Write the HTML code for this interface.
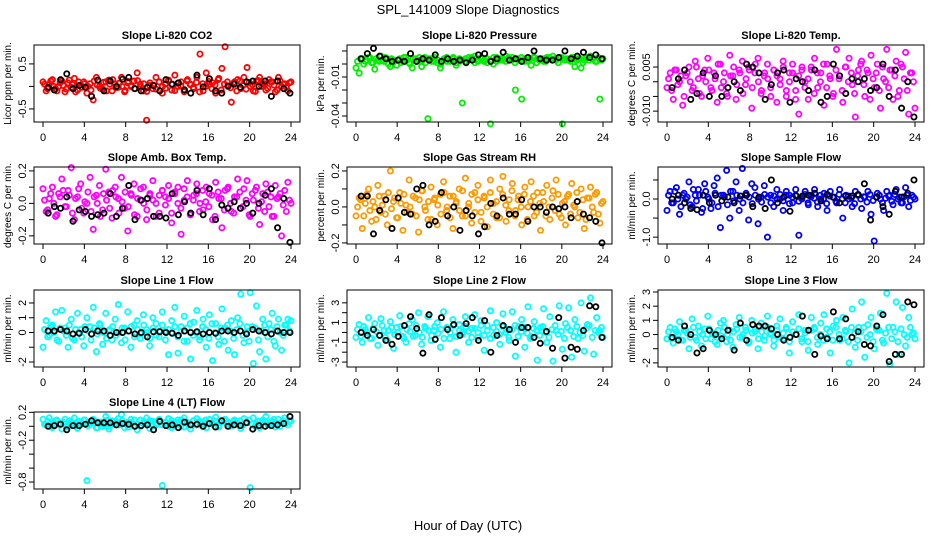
<!DOCTYPE html>
<html><head><meta charset="utf-8"><style>
html,body{margin:0;padding:0;background:#fff;}
svg{display:block;font-family:"Liberation Sans",sans-serif;}
</style></head><body>
<svg id="chart" width="936" height="540" viewBox="0 0 936 540">
<text x="468" y="14" text-anchor="middle" font-size="13">SPL_141009  Slope Diagnostics</text>
<text x="468" y="530" text-anchor="middle" font-size="13">Hour of Day (UTC)</text>
</svg>
<script>
const xTicks = [0,4,8,12,16,20,24];
const co2Color = [0.1,-0.1,0.05,0.15,-0.05,0.0,0.12,-0.12,0.08,-0.02,0.18,-0.08,0.03,0.1,-0.15,0.06,-0.3,0.2,0.0,-0.06,0.1,0.14,-0.1,0.05,-0.02,0.2,-0.12,0.08,0.0,0.12,0.3,0.05,-0.1,-0.75,0.02,-0.05,0.2,0.1,-0.15,0.05,0.12,-0.08,0.25,0.0,0.1,-0.12,0.15,0.05,-0.05,0.2,0.72,-0.1,0.3,0.05,0.08,-0.15,0.18,0.4,0.88,0.0,-0.35,0.1,0.15,-0.05,0.2,0.42,0.0,-0.1,0.12,0.2,0.05,-0.08,0.15,0.1,-0.12,0.2,0.0,0.06,-0.1,0.1];
const co2Band = [0.05,-0.05,0.12,0.0,-0.1,0.08,0.02,-0.06,0.14,0.04,-0.12,0.1,-0.02,0.06,0.0,-0.08,0.12,0.03,-0.04,0.09,-0.1,0.05,0.15,-0.03,0.07,0.0,-0.09,0.11,0.02,-0.05,0.13,-0.01,0.06,-0.11,0.08,0.03,-0.06,0.1,0.0,-0.04,0.14,0.05,-0.09,0.07,0.01,-0.07,0.12,0.04,-0.02,0.09,-0.12,0.06,0.0,0.11,-0.05,0.03,0.15,-0.08,0.05,0.1,-0.03,0.07,-0.1,0.12,0.02,-0.06,0.09,0.04,-0.11,0.13,0.0,0.06,-0.04,0.1,0.03,-0.08,0.12,0.05,-0.02,0.08];
const co2Black = [-0.02,-0.08,0.15,0.28,-0.05,0.02,-0.02,-0.22,0.14,-0.1,0.12,0.0,0.16,0.2,-0.05,-0.1,-0.02,0.02,-0.1,0.15,0.05,0.08,-0.08,-0.15,0.25,-0.01,0.17,-0.1,-0.15,0.01,0.05,-0.02,0.1,0.12,0.0,0.12,-0.22,0.12,-0.05,-0.15];
const presColor = [-0.003,-0.007,0.004,0.002,0.005,0.001,-0.004,0.003,0.006,0.002,0.004,-0.002,0.003,-0.001,0.004,0.002,0.005,0.001,-0.003,0.004,0.003,-0.002,0.005,-0.042,0.004,0.002,0.001,-0.003,0.003,0.005,0.002,0.004,-0.001,0.002,-0.03,0.004,0.003,0.005,0.006,0.002,0.004,0.003,0.001,-0.046,0.005,0.002,0.004,0.003,0.006,0.004,0.005,-0.02,0.003,-0.027,0.004,0.002,-0.001,0.005,0.004,0.003,0.002,0.005,0.004,0.006,0.003,0.005,-0.046,0.004,0.003,0.005,-0.002,0.004,-0.003,0.003,0.005,0.006,0.004,0.002,-0.027,0.004];
const presBand = [0.002,0.004,0.0,0.003,0.005,0.001,0.004,0.002,0.003,0.005,0.0,0.004,0.002,0.003,0.001,0.005,0.003,0.0,0.004,0.002,0.005,0.003,0.001,0.004,0.002,0.005,0.003,0.0,0.004,0.002,0.003,0.005,0.001,0.004,0.003,0.002,0.005,0.004,0.001,0.003,0.005,0.002,0.004,0.003,0.0,0.005,0.003,0.004,0.002,0.005,0.003,0.001,0.004,0.005,0.002,0.003,0.004,0.005,0.001,0.003,0.004,0.002,0.005,0.003,0.004,0.001,0.005,0.003,0.004,0.002,0.005,0.003,0.004,0.001,0.005,0.003,0.004,0.002,0.005,0.003];
const presBlack = [0.004,0.008,0.012,0.006,0.004,0.002,0.003,0.002,0.008,0.002,0.004,0.003,0.007,0.002,0.004,0.002,0.003,0.001,0.003,0.007,0.008,0.002,0.004,0.009,0.003,0.004,0.002,0.005,0.01,0.004,0.003,0.003,0.005,0.01,0.004,0.006,0.009,0.005,0.007,0.004];
const ltempColor = [-0.002,0.003,-0.006,0.004,0.0,-0.008,0.002,0.005,-0.003,0.007,0.001,-0.005,0.004,0.008,-0.002,0.003,-0.007,0.006,0.0,-0.004,0.009,0.002,-0.006,0.004,0.007,-0.001,0.005,-0.009,0.003,0.008,-0.004,0.002,0.006,-0.002,0.004,-0.007,0.001,0.007,-0.005,0.003,0.006,-0.003,-0.011,0.005,0.0,-0.006,0.004,0.008,-0.002,0.003,-0.008,0.006,0.001,-0.004,0.011,0.002,-0.007,0.005,0.008,-0.001,-0.012,0.004,0.007,-0.005,0.003,0.009,-0.002,0.006,-0.009,0.001,0.011,0.004,-0.006,0.007,-0.003,0.005,0.010,-0.011,0.003,-0.009];
const ltempBand = [0.001,-0.003,0.004,-0.001,0.002,-0.005,0.003,0.0,-0.002,0.005,-0.004,0.002,0.0,0.004,-0.003,0.001,0.006,-0.002,0.003,-0.005,0.002,0.005,-0.001,0.003,-0.004,0.001,0.004,-0.002,0.006,0.0,-0.003,0.003,0.001,-0.005,0.004,0.002,-0.001,0.005,-0.003,0.0,0.003,-0.006,0.002,0.004,-0.002,0.001,0.005,-0.004,0.003,0.0,0.006,-0.002,0.002,-0.005,0.004,0.001,-0.003,0.005,0.0,0.003,-0.004,0.002,0.006,-0.001,0.004,-0.006,0.001,0.003,-0.003,0.005,0.0,-0.002,0.004,0.002,-0.005,0.006,0.001,-0.003,0.003,0.0];
const ltempBlack = [-0.002,0.001,0.004,-0.006,-0.004,0.003,-0.005,0.002,-0.005,-0.002,0.0,-0.003,0.006,0.005,0.003,-0.006,-0.001,0.003,0.004,-0.007,0.001,0.0,-0.003,0.004,-0.007,-0.005,0.006,0.002,-0.004,0.001,0.0,0.001,-0.003,-0.002,0.006,-0.005,0.004,-0.009,0.0,-0.012];
const ambColor = [0.09,-0.05,0.03,0.1,-0.08,0.06,0.15,-0.02,0.08,0.22,-0.1,0.04,0.12,-0.06,0.0,0.16,-0.16,0.05,0.11,-0.04,0.21,0.07,-0.09,0.1,0.03,0.16,-0.03,-0.17,0.06,0.12,-0.08,0.02,0.1,-0.1,0.05,0.14,0.0,-0.06,0.08,0.04,0.11,-0.12,0.06,0.1,-0.19,0.02,0.14,-0.07,0.05,0.12,0.0,-0.04,0.1,0.06,-0.1,0.13,0.03,-0.15,0.08,0.1,-0.05,0.04,0.15,-0.03,0.09,0.14,-0.08,0.02,0.1,-0.13,0.06,0.12,-0.02,-0.08,0.11,0.04,-0.2,0.08,0.13,0.0];
const ambBand = [0.02,-0.04,0.06,0.0,-0.07,0.04,0.08,-0.02,0.05,-0.06,0.03,0.09,-0.03,0.01,0.07,-0.05,0.04,0.0,-0.08,0.06,0.02,-0.03,0.08,0.04,-0.06,0.01,0.07,-0.02,0.05,-0.07,0.03,0.09,0.0,-0.04,0.06,0.02,-0.08,0.05,0.08,-0.01,0.03,-0.06,0.07,0.0,-0.03,0.09,0.04,-0.07,0.02,0.06,-0.05,0.08,0.01,-0.02,0.05,-0.08,0.07,0.03,-0.04,0.09,0.0,-0.06,0.04,0.07,-0.02,0.02,-0.07,0.06,0.08,-0.03,0.01,-0.05,0.07,0.04,-0.08,0.03,0.06,-0.01,-0.05,0.02];
const ambBlack = [-0.06,-0.02,-0.03,0.04,-0.11,-0.04,-0.05,-0.08,-0.07,-0.06,0.06,-0.08,-0.03,0.11,-0.1,0.02,0.03,-0.08,-0.08,-0.09,0.06,-0.07,0.01,-0.06,0.08,-0.07,0.09,-0.1,-0.01,-0.03,0.01,-0.03,0.0,-0.06,0.0,0.05,0.09,-0.15,0.03,-0.24];
const rhColor = [-0.05,0.05,-0.12,0.02,0.1,-0.08,0.0,0.12,-0.03,0.06,-0.1,0.2,0.03,-0.06,0.08,-0.13,0.01,0.15,-0.04,0.05,-0.14,0.09,0.0,-0.07,0.11,0.04,-0.1,0.07,0.14,-0.02,0.06,-0.12,0.02,0.1,-0.05,0.16,0.0,-0.09,0.08,0.12,-0.03,0.05,-0.11,0.15,0.02,-0.06,0.1,0.17,-0.08,0.04,0.13,-0.02,0.06,-0.1,0.11,0.0,0.14,-0.05,0.08,-0.13,0.03,0.12,-0.07,0.09,0.15,-0.04,0.02,-0.1,0.07,0.13,0.0,-0.06,0.1,-0.12,0.05,0.11,-0.03,0.08,-0.09,0.03];
const rhBand = [0.0,0.04,-0.05,0.07,-0.02,0.03,-0.07,0.06,0.01,-0.04,0.08,-0.01,0.05,-0.06,0.02,0.07,-0.03,0.0,0.06,-0.05,0.04,0.09,-0.02,0.03,-0.07,0.05,0.01,-0.04,0.08,0.0,-0.06,0.06,0.03,-0.02,0.09,-0.05,0.02,0.07,-0.03,0.04,-0.08,0.06,0.0,0.08,-0.04,0.03,-0.06,0.07,0.01,-0.02,0.09,-0.05,0.04,0.0,0.07,-0.07,0.03,0.06,-0.03,0.02,0.08,-0.05,0.0,0.05,-0.02,0.07,-0.06,0.03,0.06,-0.04,0.01,0.08,-0.03,0.04,-0.07,0.05,0.0,0.07,-0.04,0.02];
const rhBlack = [0.06,0.06,-0.15,-0.02,0.04,-0.12,0.05,-0.03,-0.04,0.1,0.12,-0.1,-0.08,0.08,-0.05,0.0,-0.13,-0.02,-0.05,-0.15,-0.11,0.02,-0.05,0.05,-0.04,-0.04,0.04,-0.08,0.0,0.0,-0.03,0.0,-0.01,0.0,-0.06,0.03,-0.04,-0.06,-0.08,-0.2];
const flowColor = [-0.3,0.2,-0.1,0.3,-0.4,0.1,0.0,0.45,-0.2,0.1,0.25,-0.35,0.4,0.05,-0.25,0.35,0.55,-0.75,0.1,0.75,-0.5,0.2,0.45,-0.3,0.8,0.1,-0.55,0.4,0.3,-0.65,0.05,0.35,-1.0,0.1,-0.2,0.25,0.0,-0.3,0.2,0.1,-0.1,0.25,-0.95,0.05,0.2,-0.15,0.1,0.25,-0.2,0.0,0.15,-0.3,0.2,0.05,-0.1,0.25,-0.5,0.1,0.0,-0.2,0.2,0.1,-0.25,0.05,0.2,-0.4,-1.1,0.15,0.0,-0.3,0.2,0.1,-0.15,0.25,0.05,-0.1,0.3,-0.2,0.1,0.0];
const flowBand = [0.1,-0.1,0.2,0.0,-0.2,0.15,0.05,-0.15,0.25,-0.05,0.1,-0.25,0.2,0.0,-0.1,0.15,-0.2,0.1,0.05,-0.15,0.2,-0.05,0.1,0.0,-0.1,0.15,0.05,-0.12,0.1,0.0,-0.08,0.12,0.05,-0.1,0.08,0.0,0.12,-0.05,0.1,-0.12,0.05,0.1,-0.06,0.0,0.12,-0.1,0.06,0.02,-0.08,0.1,0.0,-0.12,0.08,0.05,-0.06,0.12,0.0,-0.1,0.08,0.03,-0.12,0.1,0.0,0.06,-0.08,0.12,-0.04,0.05,0.1,-0.1,0.02,0.08,-0.06,0.12,0.0,-0.1,0.06,0.1,-0.04,0.05];
const flowBlack = [0.0,0.1,-0.1,-0.25,-0.28,0.1,-0.1,0.1,-0.05,0.05,-0.1,0.08,0.1,-0.2,0.05,-0.25,0.5,-0.1,0.05,-0.32,0.08,0.08,0.1,0.15,-0.05,0.12,0.05,-0.1,0.08,0.08,0.12,0.4,-0.55,0.05,-0.2,-0.4,0.2,0.05,0.15,0.5];
const l1Color = [-1.0,0.8,-0.2,0.5,1.4,-0.6,1.5,0.3,-1.0,0.9,-0.5,1.3,0.2,-0.9,1.0,0.4,1.7,-1.3,0.6,-0.8,1.3,0.1,-0.5,0.9,1.9,-0.7,0.3,1.4,-1.0,0.5,0.8,-0.4,1.2,0.2,-0.9,1.0,0.6,-0.3,1.4,0.1,-1.5,0.8,1.7,-1.4,0.4,1.1,-0.6,-1.8,0.7,1.5,-0.3,0.9,-1.0,1.2,-1.9,0.6,-0.8,1.6,0.3,-1.2,0.8,-1.5,1.0,2.6,-0.7,0.4,2.7,-2.1,1.8,-1.3,0.9,-1.8,0.6,1.3,-0.9,0.9,-1.2,0.5,0.9,0.8];
const l1Band = [0.2,-0.3,0.4,0.0,-0.5,0.3,0.1,-0.2,0.5,-0.4,0.2,0.0,-0.3,0.4,0.1,-0.5,0.3,-0.1,0.5,0.0,-0.4,0.2,0.4,-0.2,0.0,0.3,-0.5,0.1,0.4,-0.3,0.2,-0.1,0.5,0.0,-0.4,0.3,-0.2,0.1,0.5,-0.5,0.2,0.0,0.4,-0.3,0.1,-0.6,0.3,0.6,-0.2,0.0,-0.5,0.4,0.2,-0.4,0.6,0.0,-0.3,0.3,-0.6,0.5,0.1,-0.4,0.2,0.6,-0.2,0.0,-0.6,0.4,0.3,-0.5,0.1,0.5,-0.3,0.2,-0.6,0.4,0.0,-0.2,0.5,0.1];
const l1Black = [0.1,0.1,0.2,0.1,-0.1,-0.05,0.2,-0.1,0.1,0.1,-0.2,0.0,0.0,0.1,-0.1,0.0,-0.3,0.05,0.05,0.0,-0.05,-0.2,0.1,0.0,0.05,-0.1,0.0,-0.05,0.1,0.1,0.0,0.1,-0.1,0.2,0.1,0.0,-0.1,0.1,0.0,0.0];
const l2Color = [-0.5,0.8,-1.0,0.3,1.5,-0.6,0.9,-1.3,1.4,0.2,-0.8,1.1,-1.6,0.5,1.7,-0.4,-1.0,0.9,1.3,-0.3,2.0,-1.2,0.6,1.6,-0.8,0.2,1.0,-1.5,2.1,0.5,-0.6,1.3,-2.0,0.8,0.0,1.6,-1.0,0.4,1.8,-0.5,1.2,-1.8,0.7,2.2,-0.3,1.0,-1.2,1.9,0.3,-0.8,2.1,-2.4,0.6,1.3,-1.5,2.6,-0.4,1.1,-2.8,0.5,2.4,-1.0,1.6,-2.9,0.2,2.7,-1.7,0.9,2.5,-2.5,1.3,-0.6,3.0,-1.9,0.8,3.5,-2.2,1.5,0.2,-0.5];
const l2Band = [0.3,-0.4,0.6,0.0,-0.6,0.4,0.1,-0.3,0.7,-0.5,0.2,0.5,-0.2,0.0,0.6,-0.6,0.3,0.1,-0.4,0.7,0.0,-0.5,0.4,0.2,-0.3,0.6,-0.1,0.3,-0.6,0.5,0.0,0.7,-0.4,0.2,-0.2,0.6,0.1,-0.5,0.4,0.0,0.7,-0.3,0.2,-0.6,0.5,0.1,-0.2,0.6,0.0,-0.5,0.3,0.7,-0.4,0.1,0.5,-0.1,-0.6,0.4,0.2,-0.3,0.6,0.0,-0.5,0.3,0.7,-0.2,0.1,-0.6,0.5,0.2,-0.4,0.6,0.0,-0.3,0.4,0.7,-0.5,0.2,0.0,0.5];
const l2Black = [0.0,-0.3,0.3,-0.3,-0.8,-1.2,-0.4,0.7,1.6,0.4,-2.1,1.8,-0.7,1.5,0.3,0.8,-0.3,0.9,1.5,-0.8,1.2,-2.0,-0.3,0.7,0.3,-1.0,0.5,0.5,-0.5,-1.1,0.1,-1.6,1.5,-2.6,-1.5,-1.7,0.2,2.7,2.6,-0.5];
const l3Color = [-0.3,0.5,-0.6,0.2,0.9,-0.4,0.3,-1.0,1.1,-0.2,0.6,-0.8,0.4,1.3,-0.3,0.1,-0.7,0.8,1.0,-0.5,0.3,-0.9,0.7,1.2,-0.2,0.5,-0.6,1.0,0.2,-1.0,0.8,-0.4,1.3,0.1,-0.8,0.6,1.1,-0.3,0.4,-1.3,0.9,0.0,1.4,-0.5,0.3,-1.1,1.2,0.4,-0.7,0.8,1.4,-0.2,-1.3,0.6,1.0,-0.4,1.2,0.2,-2.0,1.8,-0.9,0.5,2.3,-1.6,0.7,1.2,-1.0,0.3,1.5,-0.6,2.9,-2.1,0.5,2.3,-1.4,1.9,-0.8,1.2,0.0,-0.3];
const l3Band = [0.2,-0.3,0.4,0.0,-0.4,0.3,0.1,-0.2,0.5,-0.4,0.2,0.0,-0.3,0.4,0.1,-0.5,0.3,-0.1,0.5,0.0,-0.4,0.2,0.4,-0.2,0.0,0.3,-0.5,0.1,0.4,-0.3,0.2,-0.1,0.5,0.0,-0.4,0.3,-0.2,0.1,0.5,-0.5,0.2,0.0,0.4,-0.3,0.1,-0.5,0.3,0.5,-0.2,0.0,-0.4,0.4,0.2,-0.4,0.5,0.0,-0.3,0.3,-0.5,0.5,0.1,-0.4,0.2,0.5,-0.2,0.0,-0.5,0.4,0.3,-0.4,0.1,0.5,-0.3,0.2,-0.5,0.4,0.0,-0.2,0.5,0.1];
const l3Black = [-0.2,-0.4,0.6,0.0,-1.3,-1.0,0.3,0.0,-0.3,0.3,-1.1,0.8,-0.4,0.7,0.6,0.6,0.4,0.0,-0.4,-0.2,0.0,1.3,0.3,-1.4,-0.1,-0.3,1.6,-0.3,1.1,-0.2,0.2,-0.7,-0.8,0.6,1.4,-1.9,-1.4,-1.4,2.3,2.1];
const l4Color = [0.1,0.02,0.12,-0.02,0.08,0.04,-0.04,0.1,0.0,0.06,0.12,-0.03,0.05,0.09,-0.78,0.03,0.1,-0.02,0.06,0.0,0.14,-0.04,0.08,0.03,0.11,0.17,-0.02,0.06,0.1,0.01,-0.05,0.09,0.04,0.12,-0.03,0.07,0.02,0.1,-0.85,0.05,0.11,-0.02,0.06,0.09,0.0,0.12,0.04,-0.04,0.08,0.11,0.02,0.06,-0.02,0.1,0.04,0.13,-0.01,0.07,0.1,0.06,0.03,0.09,0.05,-0.03,0.11,0.06,-0.88,0.12,0.04,-0.02,0.09,0.14,0.03,0.07,-0.01,0.1,0.06,0.12,0.02,0.08];
const l4Band = [0.03,0.07,0.0,0.05,0.09,0.02,0.06,-0.01,0.08,0.04,0.0,0.07,0.03,0.09,0.01,0.05,0.08,-0.02,0.06,0.03,0.09,0.0,0.05,0.07,0.02,0.08,0.04,-0.01,0.06,0.09,0.03,0.0,0.07,0.05,0.08,0.01,0.04,0.09,0.02,0.06,0.0,0.08,0.05,0.03,0.09,-0.01,0.06,0.04,0.08,0.02,0.07,0.0,0.09,0.05,0.03,0.08,0.01,0.06,0.09,0.04,0.0,0.07,0.05,0.08,0.02,0.06,0.09,0.03,0.0,0.07,0.05,0.08,0.02,0.06,0.1,0.04,0.0,0.07,0.05,0.08];
const l4Black = [0.0,0.01,0.03,-0.05,0.01,0.01,0.03,0.08,0.05,0.05,0.05,0.02,0.04,0.03,0.0,0.01,0.02,-0.05,0.07,0.01,0.02,-0.02,0.06,0.02,0.03,0.0,0.04,-0.01,0.08,0.0,0.02,0.01,0.05,-0.04,0.01,0.0,0.01,0.02,0.04,0.14];

const svg = document.getElementById('chart');
const NS = 'http://www.w3.org/2000/svg';
function mk(tag, attrs, parent){const e=document.createElementNS(NS,tag);for(const k in attrs)e.setAttribute(k,attrs[k]);(parent||svg).appendChild(e);return e;}

const panels = [
 {id:'co2',title:'Slope Li-820 CO2',yl:'Licor ppm per min.',col:0,row:0,ymin:-0.79,ymax:0.92,ticks:[-0.5,0,0.5],labels:['-0.5','','0.5'],color:'#ff0000',c:co2Color,d:co2Band,b:co2Black},
 {id:'pressure',title:'Slope Li-820 Pressure',yl:'kPa per min.',col:1,row:0,ymin:-0.0446,ymax:0.0146,ticks:[-0.04,-0.03,-0.02,-0.01,0,0.01],labels:['-0.04','','','-0.01','',''],color:'#00ee00',c:presColor,d:presBand,b:presBlack},
 {id:'li-temp',title:'Slope Li-820 Temp.',yl:'degrees C per min.',col:2,row:0,ymin:-0.0137,ymax:0.0125,ticks:[-0.01,-0.005,0,0.005],labels:['-0.010','','','0.005'],color:'#ff00ff',c:ltempColor,d:ltempBand,b:ltempBlack},
 {id:'amb-temp',title:'Slope Amb. Box Temp.',yl:'degrees C per min.',col:0,row:1,ymin:-0.25,ymax:0.224,ticks:[-0.2,-0.1,0,0.1,0.2],labels:['-0.2','','0.0','','0.2'],color:'#ff00ff',c:ambColor,d:ambBand,b:ambBlack},
 {id:'rh',title:'Slope Gas Stream RH',yl:'percent per min.',col:1,row:1,ymin:-0.206,ymax:0.222,ticks:[-0.2,-0.1,0,0.1,0.2],labels:['-0.2','','0.0','','0.2'],color:'#ff9900',c:rhColor,d:rhBand,b:rhBlack},
 {id:'sample-flow',title:'Slope Sample Flow',yl:'ml/min per min.',col:2,row:1,ymin:-1.18,ymax:0.84,ticks:[-1,-0.5,0,0.5],labels:['-1.0','','0.0',''],color:'#0000ff',c:flowColor,d:flowBand,b:flowBlack},
 {id:'line1',title:'Slope Line 1 Flow',yl:'ml/min per min.',col:0,row:2,ymin:-2.34,ymax:2.88,ticks:[-2,-1,0,1,2],labels:['-2','','0','1','2'],color:'#00ffff',c:l1Color,d:l1Band,b:l1Black},
 {id:'line2',title:'Slope Line 2 Flow',yl:'ml/min per min.',col:1,row:2,ymin:-3.5,ymax:4.3,ticks:[-3,-2,-1,0,1,2,3],labels:['-3','','-1','','1','','3'],color:'#00ffff',c:l2Color,d:l2Band,b:l2Black},
 {id:'line3',title:'Slope Line 3 Flow',yl:'ml/min per min.',col:2,row:2,ymin:-2.29,ymax:3.14,ticks:[-2,-1,0,1,2,3],labels:['-2','','0','1','2','3'],color:'#00ffff',c:l3Color,d:l3Band,b:l3Black},
 {id:'line4',title:'Slope Line 4 (LT) Flow',yl:'ml/min per min.',col:0,row:3,ymin:-0.9,ymax:0.205,ticks:[-0.8,-0.6,-0.4,-0.2,0,0.2],labels:['-0.8','','','-0.2','','0.2'],color:'#00ffff',c:l4Color,d:l4Band,b:l4Black}
];
const cols=[[34,300],[347,612],[658,924]];
const rows=[[45,122],[167,244],[290,367],[412,489]];

panels.forEach(p=>{
  const [L,R]=cols[p.col],[T,B]=rows[p.row];
  const g=mk('g',{});
  
  
  const xs=v=>L+9+(v/24)*(R-L-18);
  const ys=v=>B-(v-p.ymin)/(p.ymax-p.ymin)*(B-T);
  const t=mk('text',{x:(L+R)/2,y:T-6,'text-anchor':'middle','font-size':'11','font-weight':'bold'},g);
  t.textContent=p.title;
  
  
  const yt=mk('text',{x:0,y:0,'text-anchor':'middle','font-size':'10',transform:`translate(${L-23},${(T+B)/2}) rotate(-90)`},g);
  yt.textContent=p.yl;
  
  
  const pts=mk('g',{fill:'none','stroke-width':'1.8'},g);
  
  
  p.c.forEach((v,i)=>{
    const c=mk('circle',{cx:xs(i*24/(p.c.length-1)),cy:ys(v),r:2.6,stroke:p.color},pts);
    
    
  });
  p.d.forEach((v,i)=>{
    const c=mk('circle',{cx:xs(0.15+i*23.7/(p.d.length-1)),cy:ys(v),r:2.6,stroke:p.color},pts);
    
    
  });
  p.b.forEach((v,i)=>{
    const c=mk('circle',{cx:xs(0.5+i*23.4/(p.b.length-1)),cy:ys(v),r:2.6,stroke:'#000'},pts);
    
    
  });
  const box=mk('rect',{x:L,y:T,width:R-L,height:B-T,fill:'none',stroke:'#000','stroke-width':'1'},g);
  
  
  xTicks.forEach(v=>{
    const x=xs(v);
    const tk=mk('line',{x1:x,x2:x,y1:B,y2:B+5,stroke:'#000'},g);
    
    
    const tl=mk('text',{x:x,y:B+19,'text-anchor':'middle','font-size':'11'},g);
    tl.textContent=String(v);
    
    
  });
  p.ticks.forEach((v,i)=>{
    const y=ys(v);
    const tk=mk('line',{x1:L-5,x2:L,y1:y,y2:y,stroke:'#000'},g);
    
    
    if(p.labels[i]){
      const tl=mk('text',{x:0,y:0,'text-anchor':'middle','font-size':'11',transform:`translate(${L-8},${y}) rotate(-90)`},g);
      tl.textContent=p.labels[i];
      
      
    }
  });
});
</script>
</body></html>
